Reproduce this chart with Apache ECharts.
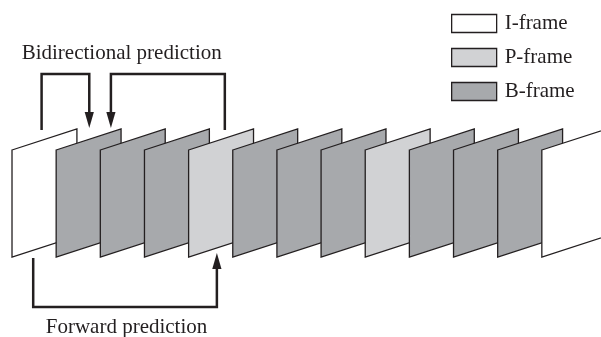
<!DOCTYPE html>
<html>
<head>
<meta charset="utf-8">
<script src="https://cdn.jsdelivr.net/npm/echarts@6/dist/echarts.min.js"></script>
<style>html,body{margin:0;padding:0;background:#fff}#c{width:601px;height:337px}</style>
</head>
<body>
<div id="c"></div>
<script>
// ---- data ----
const frameTypes = ['I','B','B','B','P','B','B','B','P','B','B','B','I'];
const legendNames = ['I-frame','P-frame','B-frame'];
const typeKeys = ['I','P','B'];
const bidirectionalArrows = [[0.67, 1.75], [4.82, 2.24]]; // [from frame pos, to frame pos]
const forwardArrows = [[0.48, 4.64]];
const labelBidirectional = 'Bidirectional prediction';
const labelForward = 'Forward prediction';

// ---- styles ----
const INK = '#231f20';
const fills = { I: '#ffffff', P: '#d1d2d4', B: '#a7a9ac' };
const FONT = '21px "Liberation Serif", "Times New Roman", serif';
const W = 1.47; // frame width in frame-index units

const chart = echarts.init(document.getElementById('c'), null, { renderer: 'canvas' });

function frameRender(params, api) {
  const i = api.value(0);
  const pts = [
    api.coord([i, 150]), api.coord([i + W, 129]),
    api.coord([i + W, 236]), api.coord([i, 257])
  ];
  return {
    type: 'polygon', z2: i * 2 + 1,
    shape: { points: pts },
    style: { fill: api.visual('color'), stroke: INK, lineWidth: 1.3, lineJoin: 'miter' }
  };
}

const frameSeries = typeKeys.map((k, idx) => ({
  type: 'custom',
  name: legendNames[idx],
  coordinateSystem: 'cartesian2d',
  itemStyle: { color: fills[k], borderColor: INK, borderWidth: 1.3 },
  renderItem: frameRender,
  data: frameTypes.map((t, i) => t === k ? [i] : null).filter(d => d !== null),
  silent: true
}));

function arrowHead(tip, dir) { // dir -1 = pointing down, +1 = pointing up
  const h = 16, w = 4.6;
  return {
    type: 'polygon',
    shape: { points: [[tip[0] - w, tip[1] + dir * h], [tip[0] + w, tip[1] + dir * h], tip] },
    style: { fill: INK, stroke: null }
  };
}

const bidiSeries = {
  type: 'custom', coordinateSystem: 'cartesian2d', silent: true,
  data: bidirectionalArrows,
  renderItem(params, api) {
    const a = api.value(0), b = api.value(1);
    const p0 = api.coord([a, 130]), p1 = api.coord([a, 74]), p2 = api.coord([b, 74]), p3 = api.coord([b, 114]);
    const tip = api.coord([b, 128]);
    return {
      type: 'group', children: [
        { type: 'polyline', shape: { points: [p0, p1, p2, p3] }, style: { stroke: INK, lineWidth: 2.5, fill: null, lineJoin: 'miter' } },
        arrowHead(tip, -1)
      ]
    };
  }
};

const fwdSeries = {
  type: 'custom', coordinateSystem: 'cartesian2d', silent: true,
  data: forwardArrows,
  renderItem(params, api) {
    const a = api.value(0), b = api.value(1);
    const p0 = api.coord([a, 258]), p1 = api.coord([a, 307]), p2 = api.coord([b, 307]), p3 = api.coord([b, 267]);
    const tip = api.coord([b, 253]);
    return {
      type: 'group', children: [
        { type: 'polyline', shape: { points: [p0, p1, p2, p3] }, style: { stroke: INK, lineWidth: 2.5, fill: null, lineJoin: 'miter' } },
        arrowHead(tip, 1)
      ]
    };
  }
};

chart.setOption({
  animation: false,
  backgroundColor: '#fff',
  grid: { left: 0, right: 0, top: 0, bottom: 0 },
  xAxis: { type: 'value', min: -0.272, max: 13.34, show: false },
  yAxis: { type: 'value', min: 0, max: 337, inverse: true, show: false },
  legend: {
    orient: 'vertical', left: 446, top: 8,
    itemWidth: 45, itemHeight: 18, itemGap: 13,
    selectedMode: false,
    icon: 'rect',
    data: legendNames.map((n, idx) => ({ name: n, itemStyle: { color: fills[typeKeys[idx]], borderColor: INK, borderWidth: 1.3 } })),
    textStyle: { fontFamily: '"Liberation Serif", "Times New Roman", serif', fontSize: 21, color: INK, padding: [0, 0, 0, 3] }
  },
  graphic: [
    { type: 'text', x: 121.7, y: 53, style: { text: labelBidirectional, font: FONT, fill: INK, align: 'center', verticalAlign: 'middle' } },
    { type: 'text', x: 126.5, y: 327, style: { text: labelForward, font: FONT, fill: INK, align: 'center', verticalAlign: 'middle' } }
  ],
  series: [...frameSeries, bidiSeries, fwdSeries]
});
</script>
</body>
</html>
